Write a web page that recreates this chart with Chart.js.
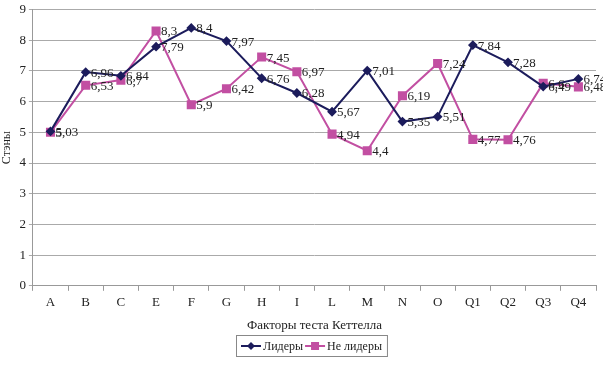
<!DOCTYPE html>
<html>
<head>
<meta charset="utf-8">
<script src="https://cdn.jsdelivr.net/npm/chart.js@4"></script>
<style>
  html, body { margin: 0; padding: 0; background: #fff; }
  #wrap { width: 603px; height: 365px; }
</style>
</head>
<body>
<div id="wrap"><canvas id="chartCanvas" width="603" height="365"></canvas></div>
<script>
const factors = ["A", "B", "C", "E", "F", "G", "H", "I", "L", "M", "N", "O", "Q1", "Q2", "Q3", "Q4"];
const leaders = [5.03, 6.96, 6.84, 7.79, 8.4, 7.97, 6.76, 6.28, 5.67, 7.01, 5.35, 5.51, 7.84, 7.28, 6.49, 6.74];
const nonLeaders = [5, 6.53, 6.7, 8.3, 5.9, 6.42, 7.45, 6.97, 4.94, 4.4, 6.19, 7.24, 4.77, 4.76, 6.6, 6.48];
const yTicks = [0, 1, 2, 3, 4, 5, 6, 7, 8, 9];

const navy = "#1c1c5c";
const pink = "#c24fa2";
const serif = "'Liberation Serif', 'Times New Roman', serif";

// value labels to the right of each point
const valueLabels = {
  id: "valueLabels",
  afterDatasetsDraw(chart) {
    const ctx = chart.ctx;
    ctx.save();
    ctx.font = "13px " + serif;
    ctx.fillStyle = "#222";
    ctx.textBaseline = "middle";
    chart.data.datasets.forEach((ds, i) => {
      chart.getDatasetMeta(i).data.forEach((pt, j) => {
        ctx.fillText(String(ds.data[j]).replace(".", ","), pt.x + 5, pt.y + 1);
      });
    });
    ctx.restore();
  }
};

// boxed legend like the original
const boxLegend = {
  id: "boxLegend",
  afterDraw(chart) {
    const ctx = chart.ctx;
    const y = 346;
    ctx.save();
    ctx.font = "12px " + serif;
    ctx.textBaseline = "middle";
    const items = chart.data.datasets;
    const widths = items.map(d => ctx.measureText(d.label).width);
    const total = widths.reduce((a, b) => a + b, 0) + items.length * 24 + 2;
    let x = Math.round(313 - total / 2);
    ctx.strokeStyle = "#888";
    ctx.lineWidth = 1;
    ctx.strokeRect(x - 4.5, y - 10.5, total + 6, 21);
    items.forEach((d, i) => {
      ctx.strokeStyle = d.borderColor;
      ctx.lineWidth = 2;
      ctx.beginPath();
      ctx.moveTo(x, y);
      ctx.lineTo(x + 20, y);
      ctx.stroke();
      ctx.fillStyle = d.pointBackgroundColor;
      if (d.pointStyle === "rect") {
        ctx.fillRect(x + 6, y - 4, 8, 8);
      } else {
        ctx.beginPath();
        ctx.moveTo(x + 10, y - 4);
        ctx.lineTo(x + 14, y);
        ctx.lineTo(x + 10, y + 4);
        ctx.lineTo(x + 6, y);
        ctx.closePath();
        ctx.fill();
      }
      ctx.fillStyle = "#222";
      ctx.fillText(d.label, x + 22, y + 1);
      x += 24 + widths[i];
    });
    ctx.restore();
  }
};

const ctx = document.getElementById("chartCanvas").getContext("2d");
const chart = new Chart(ctx, {
  type: "line",
  data: {
    labels: factors,
    datasets: [
      {
        label: "Лидеры",
        data: leaders,
        borderColor: navy,
        backgroundColor: navy,
        pointBackgroundColor: navy,
        pointBorderColor: navy,
        pointStyle: "rectRot",
        pointRadius: 3.5,
        borderWidth: 2,
        tension: 0
      },
      {
        label: "Не лидеры",
        data: nonLeaders,
        borderColor: pink,
        backgroundColor: pink,
        pointBackgroundColor: pink,
        pointBorderColor: pink,
        pointStyle: "rect",
        pointRadius: 5,
        borderWidth: 2,
        tension: 0
      }
    ]
  },
  options: {
    animation: false,
    responsive: false,
    layout: { padding: { top: 1, right: 0, bottom: 32, left: 0 } },
    plugins: {
      legend: { display: false },
      tooltip: { enabled: false }
    },
    scales: {
      x: {
        offset: true,
        grid: {
          offset: true,
          drawOnChartArea: false,
          drawTicks: true,
          tickLength: 5,
          color: "#999"
        },
        border: { color: "#999" },
        ticks: {
          color: "#222",
          font: { family: serif, size: 13 },
          padding: 4,
          maxRotation: 0,
          autoSkip: false
        },
        title: {
          display: true,
          text: "Факторы теста Кеттелла",
          color: "#222",
          font: { family: serif, size: 13 },
          padding: { top: 3, bottom: 0 }
        }
      },
      y: {
        min: 0,
        max: 9,
        afterBuildTicks(axis) {
          axis.ticks = yTicks.map(v => ({ value: v }));
        },
        grid: { color: "#aaa", tickLength: 4 },
        border: { color: "#999" },
        ticks: {
          color: "#222",
          font: { family: serif, size: 13, lineHeight: 1.0 },
          padding: 3
        },
        title: {
          display: true,
          text: "Стэны",
          color: "#222",
          font: { family: serif, size: 12 },
          padding: { top: 0, bottom: 2 }
        }
      }
    }
  },
  plugins: [valueLabels, boxLegend]
});
</script>
</body>
</html>
